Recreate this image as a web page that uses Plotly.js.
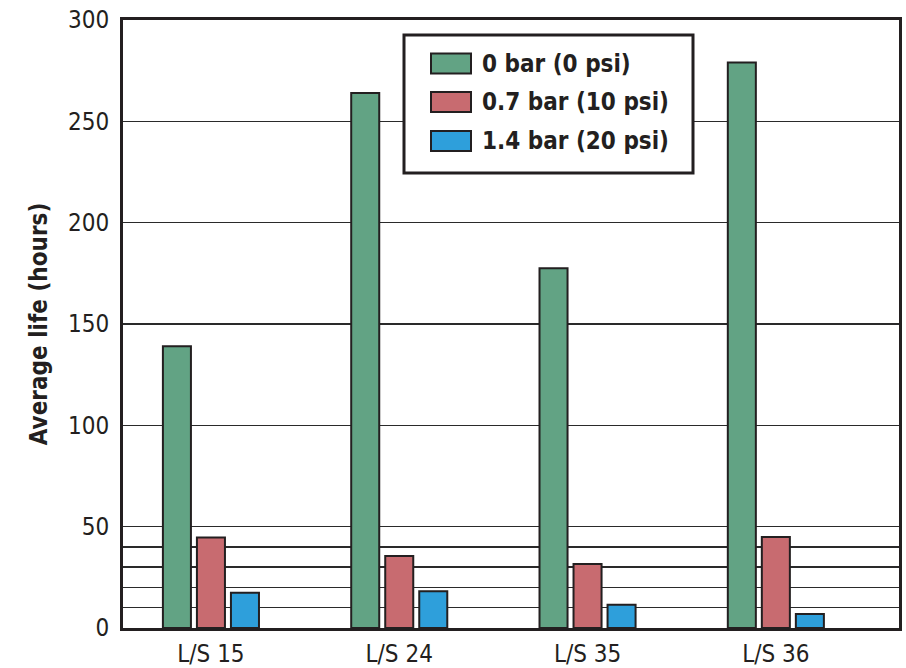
<!DOCTYPE html>
<html>
<head>
<meta charset="utf-8">
<script src="https://cdn.plot.ly/plotly-3.0.1.min.js"></script>
<style>html,body{margin:0;padding:0;background:#fff;}#chart{width:906px;height:668px;}</style>
</head>
<body>
<div id="chart"></div>
<script>
const categories = ['L/S 15', 'L/S 24', 'L/S 35', 'L/S 36'];
const seriesNames = ['0 bar (0 psi)', '0.7 bar (10 psi)', '1.4 bar (20 psi)'];
const values0bar = [139, 264, 177.5, 279];
const values07bar = [44.6, 35.5, 31.6, 44.9];
const values14bar = [17.4, 18.1, 11.5, 6.9];
const seriesColors = ['#62A384', '#C86B70', '#2E9FDB'];
const yTickVals = [0, 10, 20, 30, 40, 50, 100, 150, 200, 250, 300];
const yTickText = ['0', '', '', '', '', '50', '100', '150', '200', '250', '300'];

const FONT = '"Liberation Sans Narrow", "Arial Narrow", "DejaVu Sans Condensed", sans-serif';
const INK = '#231f20';
const W = 906, H = 668;
const M = {l: 123, r: 7, t: 20, b: 40};
const PW = W - M.l - M.r, PH = H - M.t - M.b;
const px = x => (x - M.l) / PW;
const py = y => (H - M.b - y) / PH;

const allValues = [values0bar, values07bar, values14bar];
const traces = allValues.map((vals, i) => ({
  type: 'bar',
  name: seriesNames[i],
  x: categories,
  y: vals,
  marker: {color: seriesColors[i], line: {color: INK, width: 2}},
  showlegend: false,
  hoverinfo: 'x+y+name'
}));

// Custom legend (box, swatches, labels)
const shapes = [{
  type: 'rect', xref: 'paper', yref: 'paper', layer: 'above',
  x0: px(404), x1: px(693), y0: py(173), y1: py(35),
  fillcolor: '#ffffff', line: {color: INK, width: 3}
}];
const annotations = [];
const rowCenters = [63.5, 102, 141];
seriesNames.forEach((name, i) => {
  const c = rowCenters[i];
  shapes.push({
    type: 'rect', xref: 'paper', yref: 'paper', layer: 'above',
    x0: px(431), x1: px(471), y0: py(c + 10), y1: py(c - 10),
    fillcolor: seriesColors[i], line: {color: INK, width: 2}
  });
  annotations.push({
    xref: 'paper', yref: 'paper', x: px(480), y: py(c),
    xanchor: 'left', yanchor: 'middle', showarrow: false,
    text: '<b>' + name + '</b>',
    font: {family: FONT, size: 24, color: INK}
  });
});

const layout = {
  width: W, height: H,
  margin: M,
  paper_bgcolor: '#ffffff', plot_bgcolor: '#ffffff',
  barmode: 'group',
  bargap: 0.458,
  bargroupgap: 0.176,
  font: {family: FONT, color: INK, size: 24},
  xaxis: {
    type: 'category',
    range: [-0.467, 3.654],
    showgrid: false,
    showline: true, linecolor: INK, linewidth: 3, mirror: true,
    ticks: '', ticklabelstandoff: 2,
    tickfont: {family: FONT, size: 24, color: INK},
    fixedrange: true
  },
  yaxis: {
    range: [0, 300],
    tickmode: 'array', tickvals: yTickVals, ticktext: yTickText,
    showgrid: true, gridcolor: '#2a2a2a', gridwidth: 1.5,
    zeroline: false,
    showline: true, linecolor: INK, linewidth: 3, mirror: true,
    ticks: '', ticklabelstandoff: 6,
    tickfont: {family: FONT, size: 24, color: INK},
    title: {text: '<b>Average life (hours)</b>', font: {family: FONT, size: 24, color: INK}, standoff: 14},
    fixedrange: true
  },
  shapes: shapes,
  annotations: annotations
};

Plotly.newPlot('chart', traces, layout, {displayModeBar: false, staticPlot: true});
</script>
</body>
</html>
